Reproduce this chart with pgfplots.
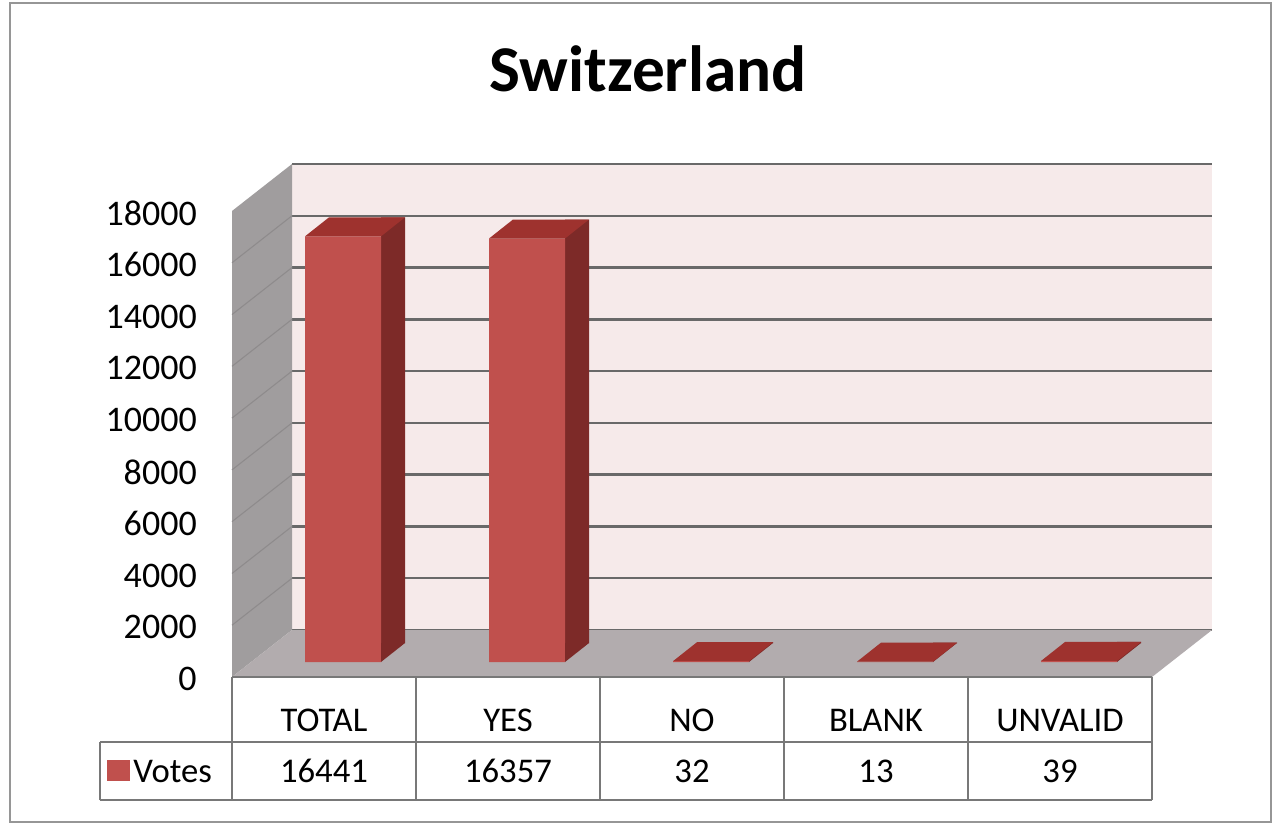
\documentclass[border=0pt]{standalone}
\usepackage{pgfplots}
\pgfplotsset{compat=1.18}
\usepackage{pgfplotstable}
\usepackage{fontspec}
\setmainfont{Carlito}
\definecolor{frontred}{RGB}{192,80,77}
\definecolor{sidered}{RGB}{125,42,40}
\definecolor{topred}{RGB}{158,50,46}
\definecolor{wallpink}{RGB}{246,234,234}
\definecolor{gridgray}{RGB}{105,105,105}
\definecolor{leftwall}{RGB}{160,157,158}
\definecolor{leftgrid}{RGB}{142,139,140}
\definecolor{floorgray}{RGB}{178,172,174}
\definecolor{tablegray}{RGB}{120,120,120}
\definecolor{framegray}{RGB}{150,150,150}

% top face of a 3D bar (drawn at the top of each bar)
\pgfdeclareplotmark{bartop}{%
  \pgfpathmoveto{\pgfqpoint{-28.5pt}{0pt}}%
  \pgfpathlineto{\pgfqpoint{28.5pt}{0pt}}%
  \pgfpathlineto{\pgfqpoint{46.5pt}{14.25pt}}%
  \pgfpathlineto{\pgfqpoint{-10.5pt}{14.25pt}}%
  \pgfpathclose
  \pgfusepathqfill
}
% lower triangle of the side face (drawn at the foot of each bar)
\pgfdeclareplotmark{barfoot}{%
  \pgfpathmoveto{\pgfqpoint{28.5pt}{0pt}}%
  \pgfpathlineto{\pgfqpoint{46.5pt}{14.25pt}}%
  \pgfpathlineto{\pgfqpoint{28.5pt}{14.25pt}}%
  \pgfpathclose
  \pgfusepathqfill
}

\pgfplotstableread{
idx votes
0 16441
1 16357
2 32
3 13
4 39
}\votes

\begin{document}
\begin{tikzpicture}[x=0.75pt,y=0.75pt]
\useasboundingbox (0,0) rectangle (1280,825);
\fill[white] (0,0) rectangle (1280,825);
\draw[framegray, line width=1.5pt] (10,3) rectangle (1271,822);

\node[anchor=base, font=\fontsize{49}{58}\selectfont\bfseries] at (648,733) {Switzerland};

% back wall with gridlines
\coordinate (backorigin) at (292,195);
\begin{axis}[at={(backorigin)}, anchor=south west, scale only axis,
  width=690pt, height=349.5pt, xmin=0, xmax=1, ymin=0, ymax=18000,
  ytick distance=2000, ymajorgrids, xtick=\empty, yticklabels={},
  scaled y ticks=false,
  major tick length=0pt, axis line style={draw=none},
  axis background/.style={fill=wallpink},
  grid style={gridgray, line width=1.8pt}]
\addplot[draw=none] coordinates {(0,0) (1,18000)};
\end{axis}

% left wall
\fill[leftwall] (232,148) -- (292,195) -- (292,661) -- (232,614) -- cycle;
\foreach \k in {1,...,8}
  \draw[leftgrid, line width=0.8pt] (232,{148+51.78*\k}) -- (292,{195+51.78*\k});
% floor
\fill[floorgray] (232,148) -- (292,195) -- (1212,195) -- (1152,148) -- cycle;

% bars
\coordinate (barorigin) at (251,163);
\begin{axis}[at={(barorigin)}, anchor=south west, scale only axis,
  width=690pt, height=349.5pt, xmin=-0.5, xmax=4.5, ymin=0, ymax=18000,
  ytick distance=2000, xtick={0,1,2,3,4},
  xticklabels={TOTAL,YES,NO,BLANK,UNVALID},
  axis line style={draw=none}, major tick length=0pt,
  tick label style={inner sep=0pt},
  yticklabel style={font=\fontsize{27}{30}\selectfont, anchor=east, xshift=-40.5pt, yshift=-12.75pt},
  xticklabel style={font=\fontsize{26}{30}\selectfont, anchor=base, yshift=-51.75pt, xshift=-14.25pt},
  /pgf/number format/assume math mode=true,
  /pgf/number format/1000 sep={},
  scaled y ticks=false, clip=false]
\addplot[ybar, bar width=18pt, bar shift=37.5pt, yshift=14.25pt, fill=sidered, draw=none]
  table[x=idx, y=votes]{\votes};
\addplot[only marks, color=sidered, mark=barfoot, mark options={fill=sidered, draw=none}]
  table[x=idx, y expr=0]{\votes};
\addplot[ybar, bar width=57pt, bar shift=0pt, fill=frontred, draw=none]
  table[x=idx, y=votes]{\votes};
\addplot[only marks, color=topred, mark=bartop, mark options={fill=topred, draw=none}]
  table[x=idx, y=votes]{\votes};
\end{axis}

% data table
\draw[tablegray, line width=1.2pt] (232,148) -- (1152,148);
\draw[tablegray, line width=1.2pt] (100,83) -- (1152,83);
\draw[tablegray, line width=1.2pt] (100,25) -- (1152,25);
\draw[tablegray, line width=1.2pt] (100,25) -- (100,83);
\foreach \k in {0,...,5}
  \draw[tablegray, line width=1.2pt] ({232+184*\k},25) -- ({232+184*\k},148);
\fill[frontred] (107,44) rectangle (130,65);
\node[anchor=base west, inner sep=0pt, font=\fontsize{26}{30}\selectfont] at (133,43) {Votes};
\foreach \v [count=\i from 0] in {16441,16357,32,13,39}
  \node[anchor=base, inner sep=0pt, font=\fontsize{26}{30}\selectfont] at ({324+184*\i},43) {\v};
\end{tikzpicture}
\end{document}
